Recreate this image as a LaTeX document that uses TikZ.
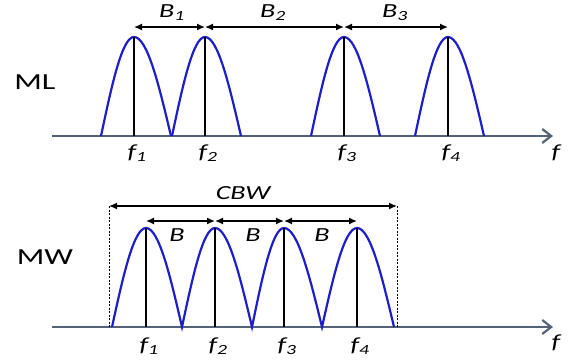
\documentclass[tikz,border=0pt]{standalone}
\usepackage{fontspec}
\setmainfont{Carlito}[FakeStretch=1.4]
\usetikzlibrary{arrows.meta}
\begin{document}
\begin{tikzpicture}[x=1pt,y=-1pt,
  axisline/.style={line width=2.6pt,draw={rgb,255:red,84;green,98;blue,120},-{Straight Barb[length=9pt,width=14pt,line width=2.2pt]}},
  lobe/.style={line width=2.2pt,draw={rgb,255:red,30;green,30;blue,200}},
  stem/.style={line width=2pt,draw=black},
  dim/.style={line width=1.4pt,{Latex[length=8pt,width=7pt]}-{Latex[length=8pt,width=7pt]}},
  guide/.style={line width=0.8pt,dashed,dash pattern=on 2pt off 1.5pt},
  lbl/.style={font=\fontsize{20}{22}\selectfont\itshape,inner sep=0pt},
  flbl/.style={font=\fontsize{20}{22}\selectfont\itshape,inner sep=0pt},
  side/.style={font=\fontsize{23}{25}\selectfont,inner sep=0pt}]
\useasboundingbox (0,0) rectangle (573,360);
% ---------- top (ML) ----------
\node[side] (ML) at (35,82) {ML};
\coordinate (a0) at (52,136);
\coordinate (a1) at (553,136);
\draw[axisline] (a0) -- (a1);
\node[flbl] (faxis1) at (556,153) {f};
% lobes
\coordinate (t1l) at (101,136); \coordinate (t1p) at (134,37); \coordinate (t1r) at (171,136);
\coordinate (t2l) at (172,136); \coordinate (t2p) at (205,37); \coordinate (t2r) at (241,136);
\coordinate (t3l) at (311,136); \coordinate (t3p) at (344,37); \coordinate (t3r) at (380,136);
\coordinate (t4l) at (415,136); \coordinate (t4p) at (448,37); \coordinate (t4r) at (484,136);
\foreach \i in {1,2,3,4}{
  \draw[lobe] (t\i l) sin (t\i p) cos (t\i r);
  \draw[stem] (t\i p) -- (t\i p |- a0);
}
\node[flbl] (tf1) at (137,153) {f\textsubscript{1}};
\node[flbl] (tf2) at (208,153) {f\textsubscript{2}};
\node[flbl] (tf3) at (347,153) {f\textsubscript{3}};
\node[flbl] (tf4) at (451,153) {f\textsubscript{4}};
\coordinate (ta1) at (134,27); \coordinate (ta2) at (205,27);
\coordinate (ta3) at (344,27); \coordinate (ta4) at (448,27);
\draw[dim] (ta1) -- (ta2);
\draw[dim] (ta2) -- (ta3);
\draw[dim] (ta3) -- (ta4);
\node[lbl] (B1) at (172,13) {B\textsubscript{1}};
\node[lbl] (B2) at (273,13) {B\textsubscript{2}};
\node[lbl] (B3) at (395,13) {B\textsubscript{3}};
% ---------- bottom (MW) ----------
\node[side] (MW) at (45,257) {MW};
\coordinate (b0) at (52,327);
\coordinate (b1) at (553,327);
\draw[axisline] (b0) -- (b1);
\node[flbl] (faxis2) at (556,343) {f};
\coordinate (v0) at (112,327); \coordinate (v1) at (182,327); \coordinate (v2) at (252,327);
\coordinate (v3) at (322,327); \coordinate (v4) at (394,327);
\coordinate (p1) at (146,228); \coordinate (p2) at (215,228);
\coordinate (p3) at (284,228); \coordinate (p4) at (357,228);
\draw[lobe] (v0) sin (p1) cos (v1) sin (p2) cos (v2) sin (p3) cos (v3) sin (p4) cos (v4);
\foreach \i in {1,2,3,4}{
  \draw[stem] (p\i) -- (p\i |- b0);
}
\node[flbl] (bf1) at (149,346) {f\textsubscript{1}};
\node[flbl] (bf2) at (218,346) {f\textsubscript{2}};
\node[flbl] (bf3) at (287,346) {f\textsubscript{3}};
\node[flbl] (bf4) at (360,346) {f\textsubscript{4}};
\coordinate (c0) at (109,206); \coordinate (c1) at (397,206);
\draw[guide] (c0) -- (c0 |- b0);
\draw[guide] (c1) -- (c1 |- b0);
\draw[dim] (c0) -- (c1);
\node[lbl] (CBW) at (243,193) {CBW};
\coordinate (ba1) at (146,221); \coordinate (ba2) at (215,221);
\coordinate (ba3) at (284,221); \coordinate (ba4) at (357,221);
\draw[dim] (ba1) -- (ba2);
\draw[dim] (ba2) -- (ba3);
\draw[dim] (ba3) -- (ba4);
\node[lbl] (Ba) at (177,235) {B};
\node[lbl] (Bb) at (253,235) {B};
\node[lbl] (Bc) at (322,235) {B};
\end{tikzpicture}
\end{document}
